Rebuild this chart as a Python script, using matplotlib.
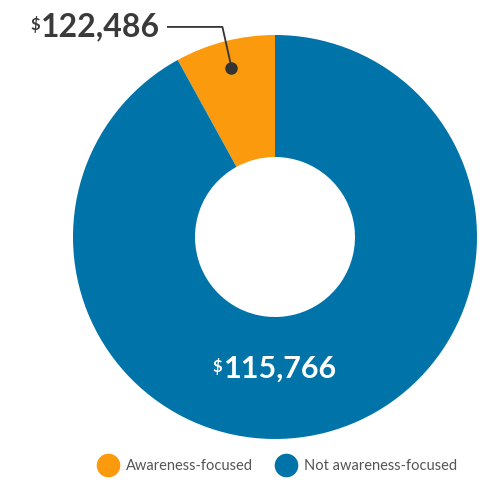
import numpy as np
import matplotlib.pyplot as plt
from matplotlib.lines import Line2D

# Share of grants in each group and the average grant shown as a label
categories = ["Awareness-focused", "Not awareness-focused"]
shares = [0.08, 0.92]
avg_amounts = [122486, 115766]
colors = ["#FA9A0C", "#0074A9"]

plt.rcParams['font.family'] = ['Lato', 'DejaVu Sans']

W, H = 487, 480
R = 202.0
cx, cy = 275, 237

fig = plt.figure(figsize=(W / 100, H / 100), dpi=100)
ax = fig.add_axes([0, 0, 1, 1])

wedges, _ = ax.pie(shares, colors=colors, startangle=90, counterclock=True,
                   radius=1.0, wedgeprops=dict(width=0.604, linewidth=0))
ax.set_xlim(-cx / R, (W - cx) / R)
ax.set_ylim(-(H - cy) / R, cy / R)
ax.set_aspect('equal')
ax.axis('off')

def money(v):
    return f"{v:,}"

# Leader for the small slice
w0 = wedges[0]
mid = np.deg2rad((w0.theta1 + w0.theta2) / 2)
dx, dy = 0.866 * np.cos(mid), 0.866 * np.sin(mid)
elbow_x, elbow_y = dx - 0.045, 1.04
ax.plot([dx], [dy], 'o', color='#333333', markersize=8, zorder=5)
ax.plot([elbow_x - 0.27, elbow_x, dx], [elbow_y, elbow_y, dy],
        color='#333333', linewidth=1.3, zorder=4)

tx = elbow_x - 0.31
t = ax.text(tx, elbow_y, money(avg_amounts[0]), ha='right', va='center',
            fontsize=23, fontweight='bold', color='#3a3a3a')
fig.canvas.draw()
bb = t.get_window_extent().transformed(ax.transData.inverted())
ax.text(bb.x0 - 0.005, bb.y1 - 0.02, "$", ha='right', va='top',
        fontsize=12, fontweight='bold', color='#3a3a3a')

# Label inside the large slice
t2 = ax.text(0.025, -0.65, money(avg_amounts[1]), ha='center', va='center',
             fontsize=22, fontweight='bold', color='white')
fig.canvas.draw()
bb2 = t2.get_window_extent().transformed(ax.transData.inverted())
ax.text(bb2.x0 - 0.005, bb2.y1 - 0.02, "$", ha='right', va='top',
        fontsize=12, fontweight='bold', color='white')

handles = [Line2D([], [], marker='o', linestyle='', markersize=17,
                  markerfacecolor=c, markeredgewidth=0) for c in colors]
fig.legend(handles, categories, loc='center', bbox_to_anchor=(278 / W, 1 - 466 / H),
           ncol=2, frameon=False, fontsize=10.5, labelcolor='#555555',
           handletextpad=0.6, columnspacing=1.7, handlelength=1.2)

fig.savefig("out.png", dpi=100)
